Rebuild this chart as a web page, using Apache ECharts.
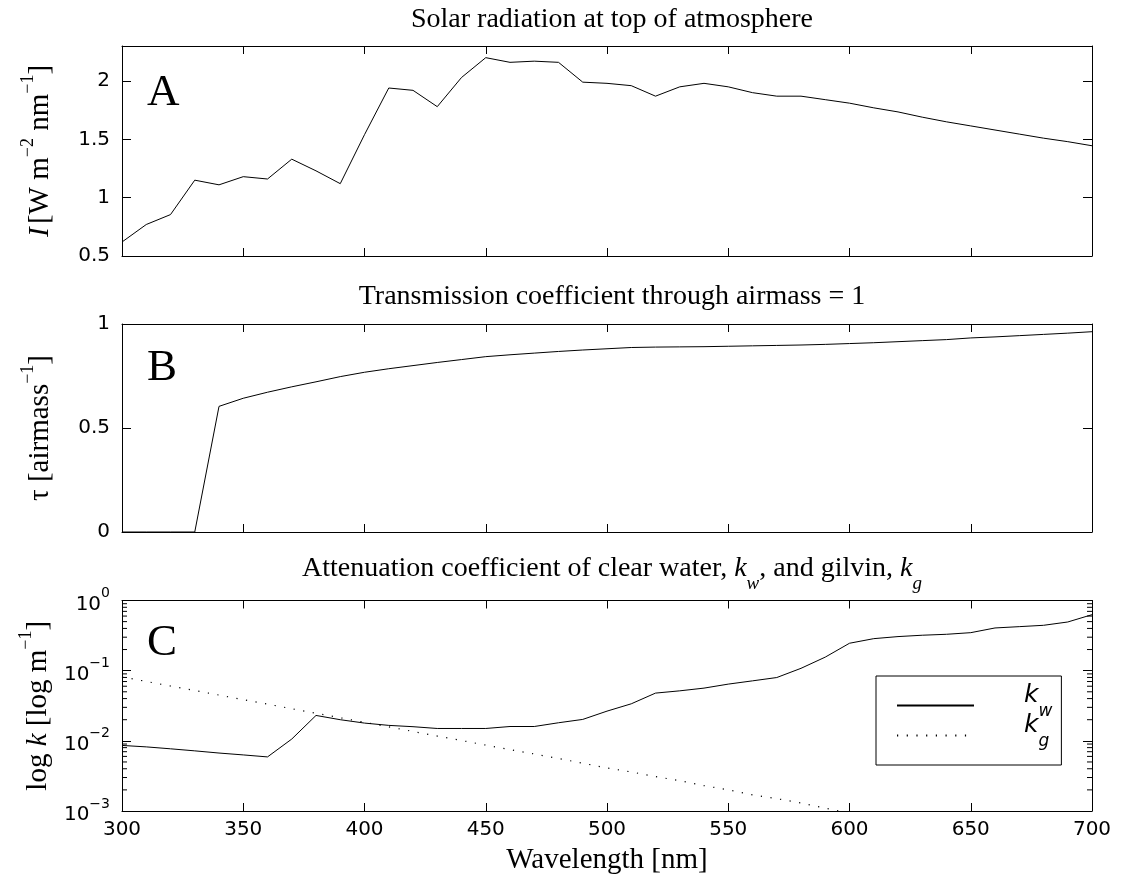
<!DOCTYPE html>
<html>
<head>
<meta charset="utf-8">
<script src="https://cdn.jsdelivr.net/npm/echarts@6/dist/echarts.min.js"></script>
<style>
html,body{margin:0;padding:0;background:#fff;}
#chart{width:1122px;height:876px;}
</style>
</head>
<body>
<div id="chart"></div>
<script>
// ---------- data ----------
const wavelengths = [300,310,320,330,340,350,360,370,380,390,400,410,420,430,440,450,460,470,480,490,500,
  510,520,530,540,550,560,570,580,590,600,610,620,630,640,650,660,670,680,690,700];

const solarI = [0.62,0.77,0.855,1.15,1.11,1.18,1.16,1.33,1.23,1.12,1.54,1.94,1.92,1.78,2.03,2.20,2.16,2.17,2.16,1.99,1.98,
  1.96,1.87,1.95,1.98,1.95,1.90,1.87,1.87,1.84,1.81,1.77,1.735,1.69,1.65,1.615,1.58,1.545,1.51,1.48,1.445];

const tau = [0,0,0,0,0.604,0.643,0.672,0.698,0.722,0.747,0.768,0.785,0.800,0.815,0.829,0.843,0.852,0.860,0.868,0.875,0.881,
  0.887,0.889,0.890,0.891,0.893,0.895,0.897,0.899,0.902,0.906,0.910,0.915,0.920,0.925,0.933,0.938,0.944,0.950,0.956,0.963];

const kWater = [0.0086,0.0082,0.0077,0.0072,0.0067,0.0063,0.0059,0.0106,0.0230,0.0200,0.0179,0.0166,0.0159,0.0150,0.0150,0.0150,0.0160,0.0160,0.0181,0.0202,0.0265,
  0.0337,0.0479,0.0516,0.0564,0.0643,0.0716,0.0798,0.108,0.156,0.246,0.286,0.306,0.320,0.330,0.348,0.406,0.424,0.443,0.494,0.628];

const kGilvin = [0.0815,0.0702,0.0605,0.0521,0.0449,0.0387,0.0333,0.0287,0.0247,0.0213,0.0184,0.0158,0.0136,0.0117,0.0101,0.0087,0.0075,0.0065,0.0056,0.0048,0.0041,
  0.0036,0.0031,0.0027,0.0023,0.0020,0.0017,0.0015,0.0013,0.0011,0.00093];

const xTicks = [300,350,400,450,500,550,600,650,700];
const yTicksA = [0.5,1,1.5,2];
const yTicksB = [0,0.5,1];
const yTicksC = [0.001,0.01,0.1,1];
const minorTicksC = [0.002,0.003,0.004,0.005,0.006,0.007,0.008,0.009,
  0.02,0.03,0.04,0.05,0.06,0.07,0.08,0.09,
  0.2,0.3,0.4,0.5,0.6,0.7,0.8,0.9];

const titles = ['Solar radiation at top of atmosphere', 'Transmission coefficient through airmass = 1'];
const panelLetters = ['A','B','C'];

// ---------- styles ----------
const SERIF = 'Liberation Serif';
const SANS = 'DejaVu Sans';
const BLACK = '#000';

function pair(a,b){ return a.map((v,i)=>[v,b[i]]); }

const grids = [
  {left:122, right:30, top:46, height:210},
  {left:122, right:30, top:324, height:208},
  {left:122, right:30, top:600.5, height:211}
];

function xAx(gi, pos, showLabel, name){
  return {
    type:'value', gridIndex:gi, position:pos, min:xTicks[0], max:xTicks[xTicks.length-1], interval:50,
    axisLine:{show:true, onZero:false, lineStyle:{color:BLACK, width:1}},
    axisTick:{show:true, inside:true, length:8, lineStyle:{color:BLACK, width:1}},
    axisLabel:{show:showLabel, margin:9, fontFamily:SANS, fontSize:20, color:BLACK},
    splitLine:{show:false},
    name: name || '', nameLocation:'middle', nameGap:35,
    nameTextStyle:{fontFamily:SERIF, fontSize:29, color:BLACK}
  };
}

const supRich = {
  n:{fontFamily:SERIF, fontSize:29, fontWeight:'normal', color:BLACK, lineHeight:36, verticalAlign:'bottom'},
  i:{fontFamily:SERIF, fontStyle:'italic', fontWeight:'normal', fontSize:29, color:BLACK, lineHeight:36, verticalAlign:'bottom'},
  s:{fontFamily:SERIF, fontSize:18, fontWeight:'normal', color:BLACK, lineHeight:18, verticalAlign:'top'}
};

function yAx(gi, pos, type, min, max, interval, showLabel, name, formatter){
  const ax = {
    type:type, gridIndex:gi, position:pos, min:min, max:max,
    axisLine:{show:true, onZero:false, lineStyle:{color:BLACK, width:1}},
    axisTick:{show:true, inside:true, length:9, lineStyle:{color:BLACK, width:1}},
    axisLabel:{show:showLabel, margin:12, fontFamily:SANS, fontSize:20, color:BLACK, showMaxLabel: type==='value' ? (max % interval === 0) : true,
      rich:{b:{fontFamily:SANS, fontSize:20, color:BLACK, lineHeight:28, verticalAlign:'bottom'},
            e:{fontFamily:SANS, fontSize:14, color:BLACK, lineHeight:14, verticalAlign:'top'}}},
    splitLine:{show:false},
    name: name || '', nameLocation:'middle', nameRotate:90, nameGap:67,
    nameTextStyle:{rich:supRich}
  };
  if (type==='value') ax.interval = interval;
  if (type==='log') ax.logBase = 10;
  if (formatter) ax.axisLabel.formatter = formatter;
  return ax;
}

const logFmt = function(v){
  const e = Math.round(Math.log10(v));
  return '{b|10}{e|' + (e===0 ? '0' : '\u2212' + (-e)) + '}';
};

const titleStyle = {fontFamily:SERIF, fontSize:28, fontWeight:'normal', color:BLACK};

const option = {
  backgroundColor:'#fff',
  animation:false,
  grid: grids,
  title:[
    {text:titles[0], left:607, textAlign:'center', top:1, textStyle:titleStyle},
    {text:titles[1], left:607, textAlign:'center', top:278, textStyle:titleStyle},
    {text:'{n|Attenuation coefficient of clear water, }{i|k}{sub|w}{n|, and gilvin, }{i|k}{sub|g}', left:607, textAlign:'center', top:550,
      textStyle:{fontWeight:'normal', rich:{
        n:{fontFamily:SERIF, fontSize:28, fontWeight:'normal', color:BLACK, lineHeight:32, verticalAlign:'top'},
        i:{fontFamily:SERIF, fontStyle:'italic', fontWeight:'normal', fontSize:28, color:BLACK, lineHeight:32, verticalAlign:'top'},
        sub:{fontFamily:SERIF, fontStyle:'italic', fontWeight:'normal', fontSize:19, color:BLACK, lineHeight:19, padding:[19,0,0,0], verticalAlign:'top'}
      }}}
  ],
  xAxis:[
    xAx(0,'bottom',false), xAx(0,'top',false),
    xAx(1,'bottom',false), xAx(1,'top',false),
    xAx(2,'bottom',true,'Wavelength [nm]'), xAx(2,'top',false)
  ],
  yAxis:[
    yAx(0,'left','value',0.5,2.3,0.5,true,'{i|I} {n|[W m}{s|\u22122}{n| nm}{s|\u22121}{n|]}'),
    yAx(0,'right','value',0.5,2.3,0.5,false),
    yAx(1,'left','value',0,1,0.5,true,'{n|\u03c4 [airmass}{s|\u22121}{n|]}'),
    yAx(1,'right','value',0,1,0.5,false),
    yAx(2,'left','log',0.001,1,null,true,'{n|log }{i|k}{n| [log m}{s|\u22121}{n|]}', logFmt),
    yAx(2,'right','log',0.001,1,null,false)
  ],
  legend:{
    show:true, orient:'vertical', left:876, top:676,
    data:['kw','kg'],
    backgroundColor:'#fff', borderColor:BLACK, borderWidth:1, borderRadius:0,
    padding:[7,9,7,20],
    itemWidth:77, itemHeight:14, itemGap:-15,
    itemStyle:{opacity:0},
    formatter:function(n){ return '{k|k}{s|' + n.charAt(1) + '}'; },
    textStyle:{padding:[0,0,0,45],
      rich:{
        k:{fontFamily:SANS, fontStyle:'italic', fontSize:25, color:BLACK, lineHeight:22, padding:[0,0,20,0]},
        s:{fontFamily:SANS, fontStyle:'italic', fontSize:17, color:BLACK, lineHeight:16, padding:[19,0,7,0]}
      }}
  },
  graphic:[
    {type:'text', x:147, y:93, style:{text:panelLetters[0], fontFamily:SERIF, fontSize:45, fill:BLACK, verticalAlign:'middle'}},
    {type:'text', x:147, y:368, style:{text:panelLetters[1], fontFamily:SERIF, fontSize:45, fill:BLACK, verticalAlign:'middle'}},
    {type:'text', x:147, y:643, style:{text:panelLetters[2], fontFamily:SERIF, fontSize:45, fill:BLACK, verticalAlign:'middle'}}
  ],
  series:[
    {type:'line', name:'I', xAxisIndex:0, yAxisIndex:0, data:pair(wavelengths, solarI), symbol:'none',
      lineStyle:{color:BLACK, width:1}, itemStyle:{color:BLACK}},
    {type:'line', name:'tau', xAxisIndex:2, yAxisIndex:2, data:pair(wavelengths, tau), symbol:'none',
      lineStyle:{color:BLACK, width:1}, itemStyle:{color:BLACK}},
    {type:'line', name:'kw', xAxisIndex:4, yAxisIndex:4, data:pair(wavelengths, kWater), symbol:'none',
      lineStyle:{color:BLACK, width:1}, itemStyle:{color:BLACK}},
    {type:'line', name:'kg', xAxisIndex:4, yAxisIndex:4, data:pair(wavelengths.slice(0,kGilvin.length), kGilvin), symbol:'none', clip:true,
      lineStyle:{color:BLACK, width:1.2, type:[1.2,8.5]}, itemStyle:{color:BLACK}},
    {type:'custom', name:'minor', xAxisIndex:4, yAxisIndex:4, silent:true, clip:false,
      data: minorTicksC.map(v=>[xTicks[0], v]),
      renderItem:function(params, api){
        const v = api.value(1);
        const l = api.coord([xTicks[0], v]);
        const r = api.coord([xTicks[xTicks.length-1], v]);
        return {type:'group', children:[
          {type:'line', shape:{x1:l[0], y1:l[1], x2:l[0]+5, y2:l[1]}, style:{stroke:BLACK, lineWidth:1}},
          {type:'line', shape:{x1:r[0]-5, y1:r[1], x2:r[0], y2:r[1]}, style:{stroke:BLACK, lineWidth:1}}
        ]};
      }}
  ]
};

const chart = echarts.init(document.getElementById('chart'), null, {renderer:'canvas'});
chart.setOption(option);
</script>
</body>
</html>
